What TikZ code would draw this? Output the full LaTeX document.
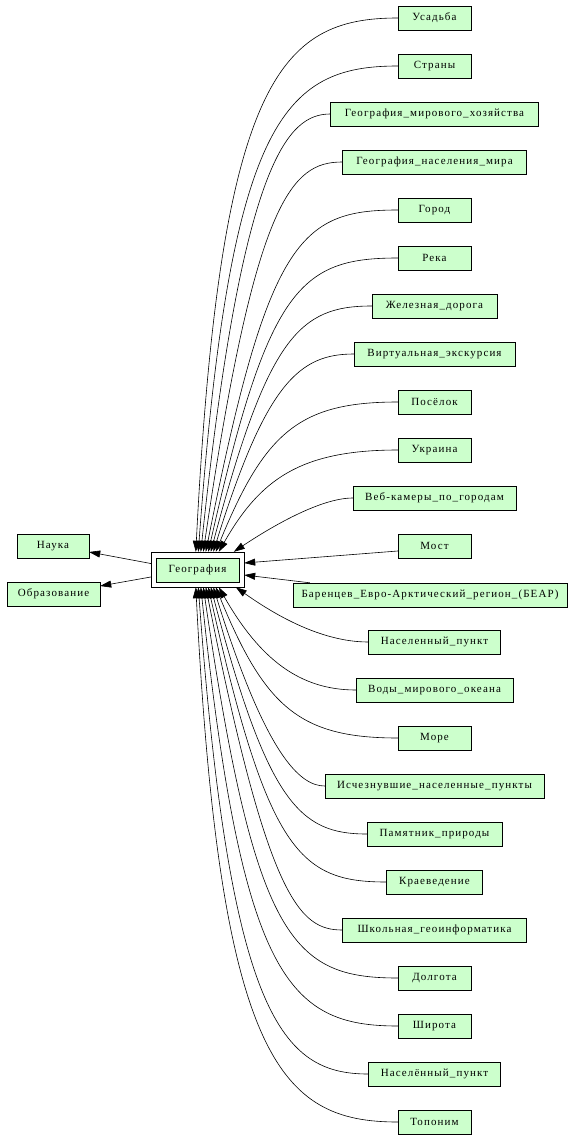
\documentclass[tikz,border=0pt]{standalone}
\usepackage{fontspec}
\setmainfont{Liberation Serif}[LetterSpace=10]
\usetikzlibrary{arrows.meta}
\definecolor{leaf}{HTML}{CCFFCC}
\begin{document}
\begin{tikzpicture}[x=1pt, y=1pt, font=\fontsize{11}{13}\selectfont, >={Triangle[length=11pt,width=7pt]},
  item/.style={draw, fill=leaf, minimum height=24pt, inner sep=0pt},
  edge/.style={->, line width=0.6pt}]
\useasboundingbox (0,0) rectangle (581,-1139);
% centre node and its two targets
\node[draw, minimum width=93pt, minimum height=35pt, inner sep=0pt] (geoframe) at (197.5,-569.5) {};
\node[item, minimum width=83pt] (geo) at (197.5,-570) {География};
\node[item, minimum width=72pt] (nauka) at (53,-546) {Наука};
\node[item, minimum width=93pt] (obraz) at (53.5,-594) {Образование};
% right column
\foreach \n/\y/\w/\t in {usadba/18/73/Усадьба, strany/66/73/Страны,
  gmh/114/208/География\_мирового\_хозяйства, gnm/162/184/География\_населения\_мира,
  gorod/210/73/Город, reka/258/73/Река, zhd/306/125/Железная\_дорога,
  virt/354/161/Виртуальная\_экскурсия, posel/402/73/Посёлок, ukr/450/73/Украина,
  veb/498/163/Веб-камеры\_по\_городам, most/546/73/Мост,
  nasp/642/132/Населенный\_пункт, vody/690/157/Воды\_мирового\_океана, more/738/73/Море,
  ischez/786/219/Исчезнувшие\_населенные\_пункты, pamyat/834/135/Памятник\_природы,
  kraev/882/96/Краеведение, shkol/930/184/Школьная\_геоинформатика,
  dolg/978/73/Долгота, shir/1026/73/Широта, naspp/1074/132/Населённый\_пункт,
  topo/1122/73/Топоним}
  \node[item, minimum width=\w pt] (\n) at (434.5,-\y) {\t};
\node[item, minimum width=274pt] (bear) at (430,-595) {Баренцев\_Евро-Арктический\_регион\_(БЕАР)};
% edges
\draw[edge] ([yshift=6pt]geoframe.west) -- ([yshift=-6pt]nauka.east);
\draw[edge] ([yshift=-7.5pt]geoframe.west) -- ([yshift=8pt]obraz.east);
\draw[edge] ([yshift=-5pt]most.west) -- ([yshift=6.5pt]geoframe.east);
\draw[edge] ([xshift=17pt]bear.north west) -- ([yshift=-5.5pt]geoframe.east);
\foreach \n/\ex/\d/\a/\h in {usadba/45/118/24/472, strany/47.5/115/31.5/430, gmh/50/43/41/390,
  gnm/52.5/51/51.5/352, gorod/55/98/62/312, reka/57.5/98/59.5/264, zhd/60/72/57/216,
  virt/62.5/55/52.5/168, posel/65/98/49/120, ukr/68/98/41/72, veb/83/33/36/24}
  \draw[edge] (\n.west) .. controls +(-\d,0) and +(\a,\h) .. ([xshift=\ex pt]geoframe.north west);
\foreach \n/\ex/\d/\a/\h in {nasp/85/50/34/24, vody/68/56/41/72, more/65/98/49/120,
  ischez/62.5/25/52.5/168, pamyat/60/67/57/216, kraev/57.5/87/59.5/264, shkol/55/43/62/312,
  dolg/52.5/106/51.5/352, shir/50/110/41/390, naspp/47.5/86/31.5/430, topo/45/118/24/472}
  \draw[edge] (\n.west) .. controls +(-\d,0) and +(\a,-\h) .. ([xshift=\ex pt]geoframe.south west);
\end{tikzpicture}
\end{document}
